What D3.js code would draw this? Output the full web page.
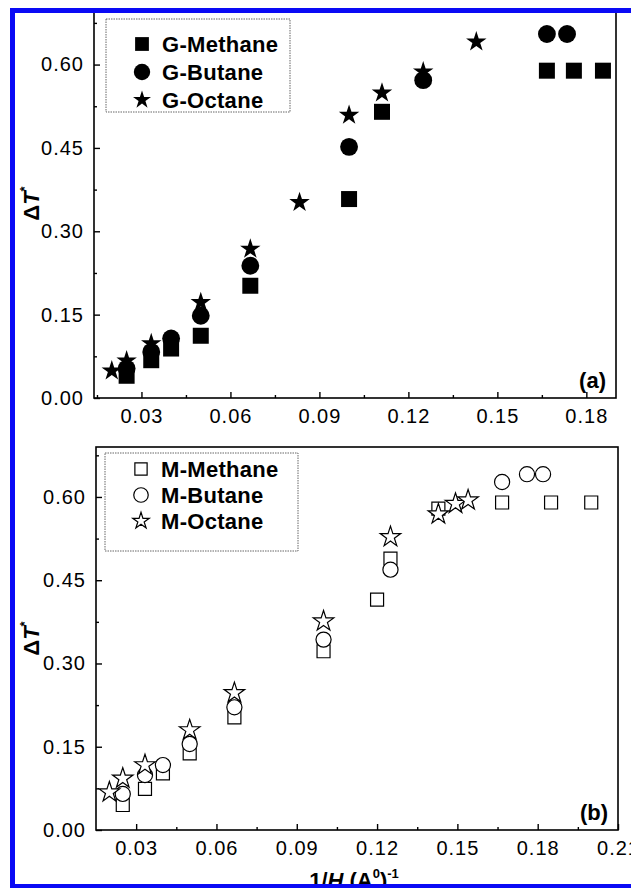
<!DOCTYPE html>
<html>
<head>
<meta charset="utf-8">
<script src="https://cdn.jsdelivr.net/npm/d3@7"></script>
<style>
  body { margin: 0; background: #fff; }
  svg text { font-family: "Liberation Sans", Arial, sans-serif; fill: #000; }
</style>
</head>
<body>
<svg id="chart" width="631" height="888"></svg>
<script>
// panel (a): G series
const gMethaneX = [0.025, 0.0333, 0.04, 0.05, 0.0667, 0.1, 0.1111, 0.1667, 0.1758, 0.1856];
const gMethaneY = [0.040, 0.068, 0.089, 0.112, 0.202, 0.358, 0.515, 0.589, 0.589, 0.589];
const gButaneX = [0.025, 0.0333, 0.04, 0.05, 0.0667, 0.1, 0.125, 0.1667, 0.1735];
const gButaneY = [0.053, 0.083, 0.107, 0.148, 0.238, 0.452, 0.572, 0.655, 0.655];
const gOctaneX = [0.02, 0.025, 0.0333, 0.05, 0.0667, 0.0833, 0.1, 0.1111, 0.125, 0.1429];
const gOctaneY = [0.049, 0.067, 0.098, 0.172, 0.268, 0.352, 0.509, 0.549, 0.587, 0.641];

// panel (b): M series
const mMethaneX = [0.025, 0.0333, 0.04, 0.05, 0.0667, 0.1, 0.12, 0.125, 0.1429, 0.1667, 0.185, 0.2];
const mMethaneY = [0.045, 0.074, 0.102, 0.138, 0.203, 0.322, 0.415, 0.489, 0.579, 0.590, 0.590, 0.590];
const mButaneX = [0.025, 0.0333, 0.04, 0.05, 0.0667, 0.1, 0.125, 0.1667, 0.176, 0.182];
const mButaneY = [0.065, 0.099, 0.117, 0.155, 0.221, 0.343, 0.469, 0.627, 0.641, 0.641];
const mOctaneX = [0.02, 0.025, 0.0333, 0.05, 0.0667, 0.1, 0.125, 0.1429, 0.1493, 0.154];
const mOctaneY = [0.068, 0.093, 0.117, 0.180, 0.247, 0.376, 0.528, 0.569, 0.588, 0.594];

const labelsA = ['G-Methane', 'G-Butane', 'G-Octane'];
const labelsB = ['M-Methane', 'M-Butane', 'M-Octane'];
const yTicks = [0, 0.15, 0.30, 0.45, 0.60];
const yMinor = [0.075, 0.225, 0.375, 0.525, 0.675];
const xTicksA = [0.03, 0.06, 0.09, 0.12, 0.15, 0.18];
const xMinorA = [0.015, 0.045, 0.075, 0.105, 0.135, 0.165];
const xTicksB = [0.03, 0.06, 0.09, 0.12, 0.15, 0.18, 0.21];
const xMinorB = [0.045, 0.075, 0.105, 0.135, 0.165, 0.195];

const svg = d3.select('#chart');

const zip = (xs, ys) => xs.map((x, i) => ({ x: x, y: ys[i] }));

function drawPanel(p) {
  const x = d3.scaleLinear().domain(p.xDomain).range([p.left, p.right]);
  const y = d3.scaleLinear().domain(p.yDomain).range([p.bottom, p.top]);
  const g = svg.append('g');

  // x axis, major + minor ticks pointing inward
  g.append('g')
    .attr('transform', `translate(0, ${p.bottom})`)
    .call(d3.axisBottom(x).tickValues(p.xTicks).tickSize(-6).tickSizeOuter(0)
      .tickPadding(11).tickFormat(d3.format('.2f')))
    .call(a => a.select('.domain').remove());
  g.append('g')
    .attr('transform', `translate(0, ${p.bottom})`)
    .call(d3.axisBottom(x).tickValues(p.xMinor).tickSize(-3).tickFormat(''))
    .call(a => a.select('.domain').remove());

  g.append('g')
    .attr('transform', `translate(${p.left}, 0)`)
    .call(d3.axisLeft(y).tickValues(yTicks).tickSize(-6).tickSizeOuter(0)
      .tickPadding(10).tickFormat(d3.format('.2f')))
    .call(a => a.select('.domain').remove());
  g.append('g')
    .attr('transform', `translate(${p.left}, 0)`)
    .call(d3.axisLeft(y).tickValues(yMinor).tickSize(-3).tickFormat(''))
    .call(a => a.select('.domain').remove());

  g.selectAll('.tick line').attr('stroke', '#000').attr('stroke-width', 1.4);
  g.selectAll('.tick text')
    .attr('font-size', 20)
    .attr('letter-spacing', 1)
    .attr('font-family', '"Liberation Sans", Arial, sans-serif');

  // frame
  g.append('rect')
    .attr('x', p.left).attr('y', p.top)
    .attr('width', p.right - p.left).attr('height', p.bottom - p.top)
    .attr('fill', 'none').attr('stroke', '#000').attr('stroke-width', 1.6);

  // markers
  p.series.forEach(s => {
    g.append('g').selectAll('path')
      .data(zip(s.xs, s.ys))
      .join('path')
      .attr('transform', d => `translate(${x(d.x)}, ${y(d.y)})`)
      .attr('d', d3.symbol().type(s.type).size(s.size))
      .attr('fill', p.filled ? '#000' : '#fff')
      .attr('stroke', '#000')
      .attr('stroke-width', p.filled ? 0 : 1.2);
  });

  // legend
  const lg = g.append('g');
  lg.append('rect')
    .attr('x', p.legend.x).attr('y', p.legend.y)
    .attr('width', p.legend.w).attr('height', p.legend.h)
    .attr('fill', 'none').attr('stroke', '#666')
    .attr('stroke-width', 1).attr('stroke-dasharray', '1.5,1');
  p.series.forEach((s, i) => {
    const cy = p.legend.rows[i];
    lg.append('path')
      .attr('transform', `translate(${p.legend.x + 36}, ${cy})`)
      .attr('d', d3.symbol().type(s.type).size(s.legendSize))
      .attr('fill', p.filled ? '#000' : '#fff')
      .attr('stroke', '#000')
      .attr('stroke-width', p.filled ? 0 : 1.2);
    lg.append('text')
      .attr('x', p.legend.x + 56).attr('y', cy)
      .attr('dy', '0.36em')
      .attr('font-size', 22).attr('font-weight', 'bold')
      .attr('letter-spacing', 0.3)
      .text(s.label);
  });

  // panel tag
  g.append('text')
    .attr('x', p.right - 10).attr('y', p.bottom - 10)
    .attr('text-anchor', 'end')
    .attr('font-size', 22).attr('font-weight', 'bold')
    .text(p.tag);

  // y label
  const yl = g.append('text')
    .attr('transform', `translate(39, ${(p.top + p.bottom) / 2}) rotate(-90)`)
    .attr('text-anchor', 'middle')
    .attr('font-size', 22).attr('font-weight', 'bold');
  yl.append('tspan').text('Δ');
  yl.append('tspan').attr('font-style', 'italic').text('T');
  yl.append('tspan').attr('font-size', 13).attr('dy', -10).text('*');
}

drawPanel({
  left: 94, right: 616, top: 9, bottom: 398,
  xDomain: [0.014, 0.19], yDomain: [0, 0.70],
  xTicks: xTicksA, xMinor: xMinorA,
  filled: true, tag: '(a)',
  legend: { x: 106, y: 19, w: 184, h: 93, rows: [44, 72, 100] },
  series: [
    { xs: gMethaneX, ys: gMethaneY, type: d3.symbolSquare, size: 256, legendSize: 190, label: labelsA[0] },
    { xs: gButaneX, ys: gButaneY, type: d3.symbolCircle, size: 250, legendSize: 210, label: labelsA[1] },
    { xs: gOctaneX, ys: gOctaneY, type: d3.symbolStar, size: 130, legendSize: 100, label: labelsA[2] }
  ]
});

drawPanel({
  left: 96, right: 618, top: 447, bottom: 830,
  xDomain: [0.015, 0.21], yDomain: [0, 0.69],
  xTicks: xTicksB, xMinor: xMinorB,
  filled: false, tag: '(b)',
  legend: { x: 105, y: 453, w: 193, h: 98, rows: [469, 495, 521] },
  series: [
    { xs: mMethaneX, ys: mMethaneY, type: d3.symbolSquare, size: 169, legendSize: 150, label: labelsB[0] },
    { xs: mButaneX, ys: mButaneY, type: d3.symbolCircle, size: 180, legendSize: 165, label: labelsB[1] },
    { xs: mOctaneX, ys: mOctaneY, type: d3.symbolStar, size: 130, legendSize: 85, label: labelsB[2] }
  ]
});

// x axis title under panel (b)
const xt = svg.append('text')
  .attr('x', 354).attr('y', 888)
  .attr('text-anchor', 'middle')
  .attr('font-size', 22).attr('font-weight', 'bold');
xt.append('tspan').text('1/');
xt.append('tspan').attr('font-style', 'italic').text('H');
xt.append('tspan').text(' (A');
xt.append('tspan').attr('font-size', 13).attr('dy', -10).text('0');
xt.append('tspan').attr('dy', 10).text(')');
xt.append('tspan').attr('font-size', 13).attr('dy', -10).text('-1');

// blue frame around the figure
const blue = '#0a0af5';
svg.append('rect').attr('x', 10).attr('y', 8).attr('width', 621).attr('height', 5).attr('fill', blue);
svg.append('rect').attr('x', 10).attr('y', 8).attr('width', 5).attr('height', 880).attr('fill', blue);
svg.append('rect').attr('x', 10).attr('y', 884).attr('width', 621).attr('height', 4).attr('fill', blue);
</script>
</body>
</html>
